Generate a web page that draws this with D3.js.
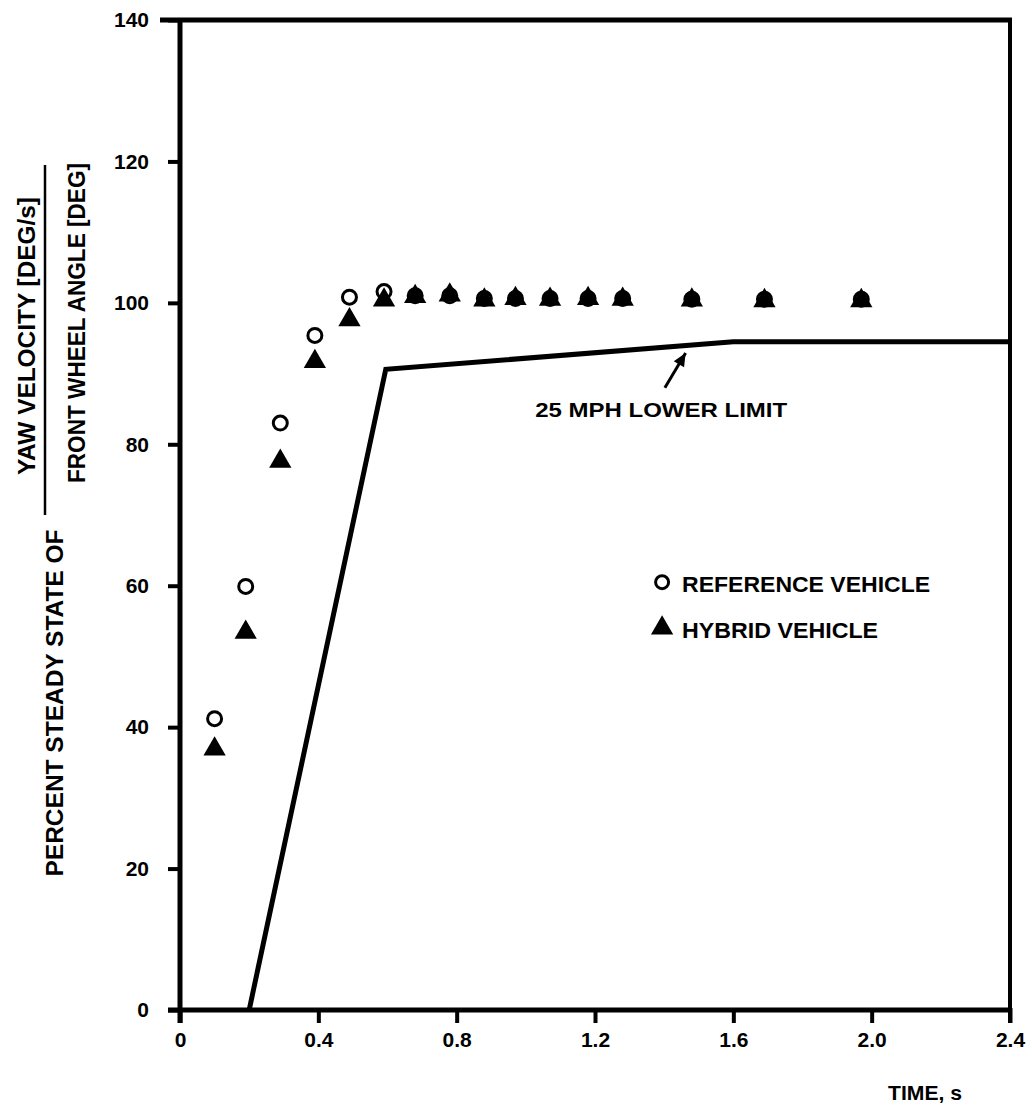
<!DOCTYPE html>
<html>
<head>
<meta charset="utf-8">
<script src="https://cdn.jsdelivr.net/npm/d3@7/dist/d3.min.js"></script>
<style>
  html, body { margin: 0; padding: 0; background: #fff; }
  svg { display: block; font-family: "Liberation Sans", Arial, sans-serif; font-weight: bold; }
</style>
</head>
<body>
<svg id="chart" width="1032" height="1110"></svg>
<script>
// ---- data ----
const timeRef = [0.10, 0.19, 0.29, 0.39, 0.49, 0.59, 0.68, 0.78, 0.88, 0.97, 1.07, 1.18, 1.28, 1.48, 1.69, 1.97];
const referenceVehicle = [41.2, 59.9, 83.0, 95.4, 100.8, 101.6, 101.0, 101.0, 100.6, 100.6, 100.6, 100.6, 100.6, 100.5, 100.5, 100.5];
const hybridVehicle   = [36.9, 53.4, 77.6, 91.7, 97.6, 100.4, 100.9, 101.1, 100.4, 100.6, 100.5, 100.6, 100.5, 100.4, 100.3, 100.3];
const limitTime  = [0.20, 0.595, 1.60, 2.40];
const limitValue = [0.0, 90.6, 94.5, 94.5];
const xTicks = [0, 0.4, 0.8, 1.2, 1.6, 2.0, 2.4];
const xTickLabels = ["0", "0.4", "0.8", "1.2", "1.6", "2.0", "2.4"];
const yTicks = [0, 20, 40, 60, 80, 100, 120, 140];
const legendLabels = ["REFERENCE VEHICLE", "HYBRID VEHICLE"];
const annotationText = "25 MPH LOWER LIMIT";
const xTitle = "TIME, s";
const yTitleMain = "PERCENT STEADY STATE OF";
const yTitleNum = "YAW VELOCITY [DEG/s]";
const yTitleDen = "FRONT WHEEL ANGLE [DEG]";

// ---- layout ----
const svg = d3.select("#chart");
const x = d3.scaleLinear().domain([0, 2.4]).range([180, 1010]);
const y = d3.scaleLinear().domain([0, 140]).range([1010, 20]);
const ink = "#000";

// frame: top and right
svg.append("line").attr("x1", 160).attr("x2", x(2.4) + 2).attr("y1", y(140)).attr("y2", y(140))
  .attr("stroke", ink).attr("stroke-width", 5);
svg.append("line").attr("x1", x(2.4)).attr("x2", x(2.4)).attr("y1", y(140) - 2).attr("y2", y(0) + 13)
  .attr("stroke", ink).attr("stroke-width", 4);

// axes
const xAxis = d3.axisBottom(x).tickValues(xTicks).tickFormat((d, i) => xTickLabels[i])
  .tickSize(13).tickSizeOuter(0).tickPadding(9);
const gx = svg.append("g").attr("transform", `translate(0,${y(0)})`).call(xAxis);
gx.select(".domain").attr("stroke", ink).attr("stroke-width", 5).attr("d", `M${x(0) - 12},0H${x(2.4)}`);
gx.selectAll(".tick line").attr("stroke", ink).attr("stroke-width", 4).attr("y1", -2);
gx.selectAll(".tick text").attr("fill", ink).style("font-size", "21px").style("font-weight", "bold")
  .style("font-family", "'Liberation Sans', Arial, sans-serif");

const yAxis = d3.axisLeft(y).tickValues(yTicks).tickSize(12).tickSizeOuter(0).tickPadding(19);
const gy = svg.append("g").attr("transform", `translate(${x(0)},0)`).call(yAxis);
gy.select(".domain").attr("stroke", ink).attr("stroke-width", 5).attr("d", `M0,${y(140) - 2}V${y(0) + 13}`);
gy.selectAll(".tick line").attr("stroke", ink).attr("stroke-width", 4);
gy.selectAll(".tick text").attr("fill", ink).style("font-size", "21px").style("font-weight", "bold")
  .style("font-family", "'Liberation Sans', Arial, sans-serif");

// lower limit line
const limitData = limitTime.map((t, i) => ({ t, v: limitValue[i] }));
svg.append("path").datum(limitData)
  .attr("fill", "none").attr("stroke", ink).attr("stroke-width", 5).attr("stroke-linejoin", "miter")
  .attr("d", d3.line().x(d => x(d.t)).y(d => y(d.v)));

// reference vehicle: open circles
const refData = timeRef.map((t, i) => ({ t, v: referenceVehicle[i] }));
svg.append("g").selectAll("circle").data(refData).join("circle")
  .attr("cx", d => x(d.t)).attr("cy", d => y(d.v)).attr("r", 7)
  .attr("fill", "none").attr("stroke", ink).attr("stroke-width", 3);

// hybrid vehicle: filled triangles
const hybData = timeRef.map((t, i) => ({ t, v: hybridVehicle[i] }));
const tri = d3.symbol().type(d3.symbolTriangle).size(215);
svg.append("g").selectAll("path").data(hybData).join("path")
  .attr("transform", d => `translate(${x(d.t)},${y(d.v)})`)
  .attr("d", tri).attr("fill", ink);

// annotation
svg.append("text").attr("x", x(1.027)).attr("y", y(83.9))
  .attr("textLength", 252).attr("lengthAdjust", "spacingAndGlyphs")
  .style("font-size", "21px").attr("fill", ink).text(annotationText);
const ax1 = x(1.402), ay1 = y(88.0), ax2 = x(1.462), ay2 = y(92.9);
svg.append("line").attr("x1", ax1).attr("y1", ay1).attr("x2", ax2).attr("y2", ay2)
  .attr("stroke", ink).attr("stroke-width", 3);
{
  const ang = Math.atan2(ay2 - ay1, ax2 - ax1);
  const L = 13, W = 6;
  const bx = ax2 - L * Math.cos(ang), by = ay2 - L * Math.sin(ang);
  const px = -Math.sin(ang) * W, py = Math.cos(ang) * W;
  svg.append("path").attr("d", `M${ax2},${ay2}L${bx + px},${by + py}L${bx - px},${by - py}Z`).attr("fill", ink);
}

// legend
const lgX = x(1.394), lgY1 = y(60.5), lgY2 = y(54.0);
svg.append("circle").attr("cx", lgX).attr("cy", lgY1).attr("r", 6.5)
  .attr("fill", "none").attr("stroke", ink).attr("stroke-width", 3);
svg.append("path").attr("transform", `translate(${lgX},${lgY2})`).attr("d", tri).attr("fill", ink);
svg.append("text").attr("x", lgX + 20).attr("y", lgY1 + 10)
  .attr("textLength", 248).attr("lengthAdjust", "spacingAndGlyphs")
  .style("font-size", "22px").attr("fill", ink).text(legendLabels[0]);
svg.append("text").attr("x", lgX + 20).attr("y", lgY2 + 10)
  .attr("textLength", 196).attr("lengthAdjust", "spacingAndGlyphs")
  .style("font-size", "22px").attr("fill", ink).text(legendLabels[1]);

// axis titles
svg.append("text").attr("x", 888).attr("y", 1100)
  .attr("textLength", 74).attr("lengthAdjust", "spacingAndGlyphs")
  .style("font-size", "21px").attr("fill", ink).text(xTitle);

function vText(cx, cy, len, txt, size) {
  svg.append("text").attr("transform", `translate(${cx},${cy}) rotate(-90)`)
    .attr("text-anchor", "middle").attr("x", 0).attr("y", 0)
    .attr("textLength", len).attr("lengthAdjust", "spacingAndGlyphs")
    .style("font-size", size + "px").attr("fill", ink).text(txt);
}
vText(63, 703, 347, yTitleMain, 24);
vText(35, 336, 278, yTitleNum, 24);
vText(85, 323, 320, yTitleDen, 24);
svg.append("line").attr("x1", 45).attr("x2", 45).attr("y1", 165).attr("y2", 515)
  .attr("stroke", ink).attr("stroke-width", 2.5);
</script>
</body>
</html>
